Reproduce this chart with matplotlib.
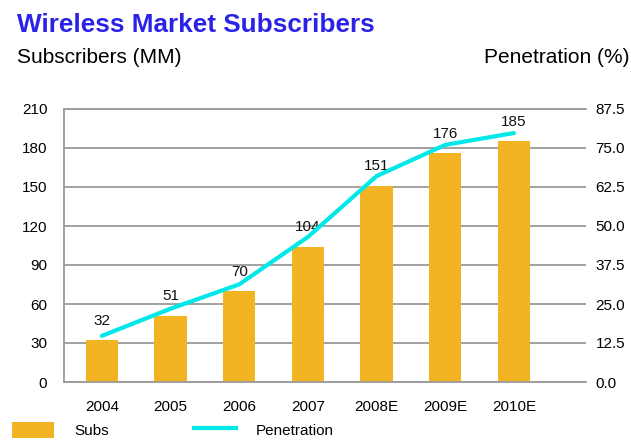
import matplotlib
matplotlib.use("Agg")
import matplotlib.pyplot as plt
from matplotlib.patches import Patch
from matplotlib.lines import Line2D

plt.rcParams['font.family'] = ['Liberation Sans', 'DejaVu Sans']

# data
years = ["2004", "2005", "2006", "2007", "2008E", "2009E", "2010E"]
subs = [32, 51, 70, 104, 151, 176, 185]
penetration = [14.8, 23.5, 31.3, 46.5, 66.0, 76.0, 79.8]
left_ticks = [0, 30, 60, 90, 120, 150, 180, 210]
right_ticks = [0, 12.5, 25, 37.5, 50, 62.5, 75, 87.5]

bar_color = "#F2B422"
line_color = "#00E8E8"
grid_color = "#9A9A9A"
fs = 11

fig = plt.figure(figsize=(6.31, 4.40), dpi=100)
ax = fig.add_axes([64 / 631, 1 - 382 / 440, (586 - 64) / 631, (382 - 109) / 440])
x = list(range(len(years)))

ax.bar(x, subs, width=0.47, color=bar_color, zorder=2)
for xi, v in zip(x, subs):
    ax.annotate(str(v), (xi, v), xytext=(0, 14), textcoords="offset points",
                ha="center", va="center", fontsize=fs, color="#111111", zorder=4)

ax.set_ylim(0, 210)
ax.set_yticks(left_ticks)
ax.set_xlim(-0.553, 7.05)
ax.set_xticks(x)
ax.set_xticklabels(years)
ax.yaxis.grid(True, color=grid_color, linewidth=1.3, zorder=0)
ax.set_axisbelow(True)
for s in ["left", "bottom", "top"]:
    ax.spines[s].set_color(grid_color)
    ax.spines[s].set_linewidth(1.3)
ax.spines["right"].set_visible(False)
ax.tick_params(axis="y", length=0, pad=12, labelsize=fs)
ax.tick_params(axis="x", length=0, pad=13, labelsize=fs)

ax2 = ax.twinx()
ax2.plot(x, penetration, color=line_color, linewidth=3, zorder=3,
         solid_capstyle="round", solid_joinstyle="round")
ax2.set_ylim(0, 87.5)
ax2.set_yticks(right_ticks)
ax2.set_yticklabels([f"{t:.1f}" for t in right_ticks])
ax2.tick_params(axis="y", length=0, pad=7, labelsize=fs)
for s in ax2.spines.values():
    s.set_visible(False)

fig.text(17 / 631, 1 - 32 / 440, "Wireless Market Subscribers", color="#2A22E6",
         fontsize=18.8, fontweight="bold", ha="left", va="baseline")
fig.text(17 / 631, 1 - 63 / 440, "Subscribers (MM)", fontsize=15, ha="left", va="baseline")
fig.text(629 / 631, 1 - 63 / 440, "Penetration (%)", fontsize=15, ha="right", va="baseline")

handles = [Patch(facecolor=bar_color, edgecolor="none"),
           Line2D([0], [0], color=line_color, linewidth=3)]
fig.legend(handles, ["Subs", "Penetration"], loc="center left",
           bbox_to_anchor=(12 / 631, 1 - 430 / 440), ncol=2, frameon=False,
           fontsize=fs, handlelength=2.75, handleheight=1.3, handletextpad=1.3,
           columnspacing=5.6, borderpad=0, borderaxespad=0)

fig.savefig("out.png", dpi=100)
